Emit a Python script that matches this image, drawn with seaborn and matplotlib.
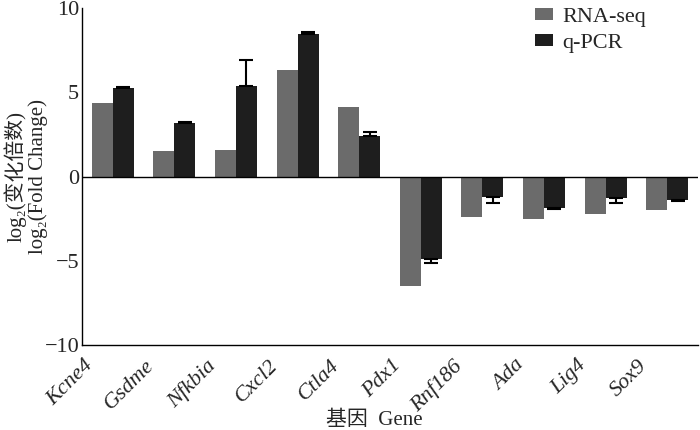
import numpy as np
import pandas as pd
import matplotlib
matplotlib.use("Agg")
import matplotlib.pyplot as plt
import matplotlib.transforms as mtransforms
import seaborn as sns
from matplotlib.patches import Patch

# 数据 (图中读取)
genes = ["Kcne4", "Gsdme", "Nfkbia", "Cxcl2", "Ctla4",
         "Pdx1", "Rnf186", "Ada", "Lig4", "Sox9"]
rna_seq = [4.35, 1.5, 1.55, 6.3, 4.1, -6.5, -2.4, -2.5, -2.2, -2.0]
qpcr = [5.25, 3.15, 5.4, 8.45, 2.4, -4.9, -1.2, -1.85, -1.25, -1.4]
qpcr_err = [0.08, 0.1, 1.5, 0.15, 0.22, 0.25, 0.35, 0.1, 0.3, 0.08]
series_names = ["RNA-seq", "q-PCR"]
colors = ["#6b6b6b", "#1e1e1e"]

sns.set_theme(style="white")
plt.rcParams["font.family"] = ["Liberation Serif", "Noto Sans CJK SC", "DejaVu Sans"]

df = pd.DataFrame({
    "gene": genes * 2,
    "value": rna_seq + qpcr,
    "series": [series_names[0]] * len(genes) + [series_names[1]] * len(genes),
})

fig = plt.figure(figsize=(7, 4.3), dpi=100)
ax = fig.add_axes([82 / 700, 85 / 430, 616 / 700, 337 / 430])

sns.barplot(data=df, x="gene", y="value", hue="series", palette=colors,
            width=0.68, errorbar=None, ax=ax, legend=False,
            edgecolor="none")

# 单侧误差棒 (远离零点方向)
bars_q = ax.containers[1]
xs = [p.get_x() + p.get_width() / 2 for p in bars_q]
lower = [0 if v > 0 else e for v, e in zip(qpcr, qpcr_err)]
upper = [e if v > 0 else 0 for v, e in zip(qpcr, qpcr_err)]
ax.errorbar(xs, qpcr, yerr=[lower, upper], fmt="none", ecolor="black",
            elinewidth=1.5, capsize=5, capthick=1.5)

ax.axhline(0, color="black", lw=1)
ax.set_xlim(-0.5, 9.5)
ax.set_ylim(-10, 10)
ax.set_yticks([-10, -5, 0, 5, 10])
ax.set_yticklabels(["\u221210", "\u22125", "0", "5", "10"], fontsize=16)
ax.set_xticks(range(len(genes)))
ax.set_xticklabels(genes, rotation=45, ha="right", fontsize=16, style="italic")
ax.tick_params(axis="both", length=0, pad=2)
ax.tick_params(axis="x", pad=8)
shift = mtransforms.ScaledTranslation(-0.16, 0, fig.dpi_scale_trans)
for lbl in ax.get_xticklabels():
    lbl.set_transform(lbl.get_transform() + shift)

sns.despine(ax=ax)
for s in ["left", "bottom"]:
    ax.spines[s].set_color("black")
    ax.spines[s].set_linewidth(1)

ax.set_xlabel("基因  Gene", fontsize=15)
ax.xaxis.set_label_coords(0.474, -0.195)
ax.set_ylabel("log\u2082(变化倍数)\nlog\u2082(Fold Change)", fontsize=15,
              linespacing=1.15)
ax.yaxis.set_label_coords(-0.055, 0.5)

handles = [Patch(facecolor=c, edgecolor="none") for c in colors]
ax.legend(handles, series_names, loc="upper right", bbox_to_anchor=(0.915, 1.0),
          frameon=False, fontsize=16, handlelength=0.8, handleheight=0.45,
          handletextpad=0.4, labelspacing=0.3, borderaxespad=0, borderpad=0)

fig.savefig("out.png", dpi=100)
